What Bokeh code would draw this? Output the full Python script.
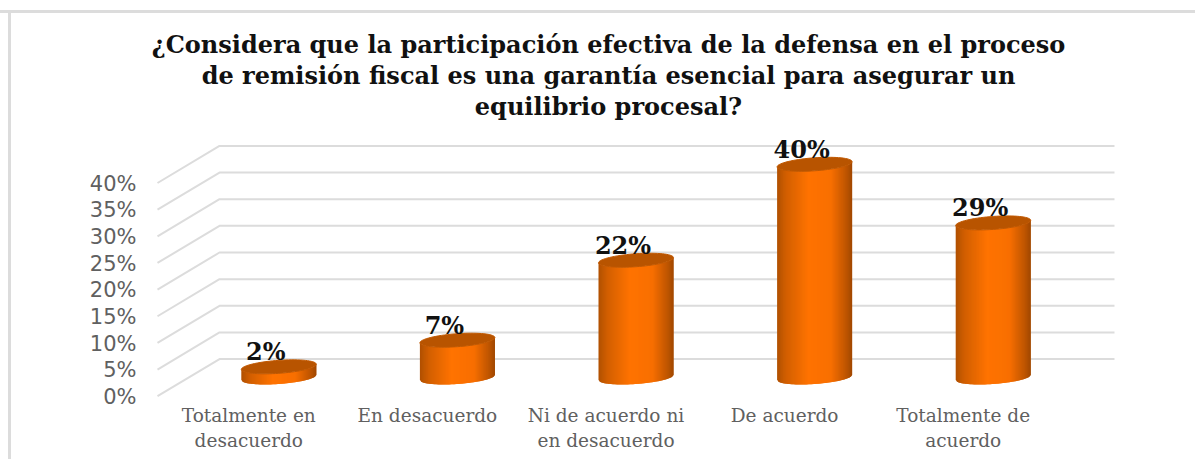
import math
from bokeh.plotting import figure
from bokeh.models import Range1d, FixedTicker, Label, LinearAxis
from bokeh.core.properties import value
from bokeh.embed import file_html
from bokeh.resources import INLINE

title_text = "¿Considera que la participación efectiva de la defensa en el proceso\nde remisión fiscal es una garantía esencial para asegurar un\nequilibrio procesal?"
categories = ["Totalmente en\ndesacuerdo", "En desacuerdo", "Ni de acuerdo ni\nen desacuerdo", "De acuerdo", "Totalmente de\nacuerdo"]
values_pct = [2, 7, 22, 40, 29]
bar_labels = ["2%", "7%", "22%", "40%", "29%"]
y_ticks = [0, 5, 10, 15, 20, 25, 30, 35, 40]
y_tick_labels = {t: f"{t}%" for t in y_ticks}

W, H = 1195, 459
L, R, T, B = 148, 0, 0, 61
FRAME_W, FRAME_H = W - L - R, H - T - B
PX_X, PX_Y = 178.6, 5.33
CX0, Y0 = 278.3, 396.5
LABEL_SHIFT = 30 / PX_X
x0 = (L - CX0) / PX_X
y0 = (Y0 - (T + FRAME_H)) / PX_Y

p = figure(width=W, height=H, output_backend="svg", toolbar_location=None,
           x_range=Range1d(x0, x0 + FRAME_W / PX_X),
           y_range=Range1d(y0, y0 + FRAME_H / PX_Y),
           x_axis_location=None,
           min_border_left=L, min_border_right=R, min_border_top=T, min_border_bottom=B,
           border_fill_color=None, background_fill_color=None)
p.styles = {
    "background-color": "white",
    "background-image": "linear-gradient(#dcdcdc,#dcdcdc), linear-gradient(#dcdcdc,#dcdcdc)",
    "background-size": "100% 3px, 3px 100%",
    "background-position": "0 10px, 8px 10px",
    "background-repeat": "no-repeat",
}
p.outline_line_color = None
p.grid.visible = False

p.yaxis.ticker = FixedTicker(ticks=y_ticks)
p.yaxis.major_label_overrides = y_tick_labels
p.yaxis.axis_line_color = None
p.yaxis.major_tick_line_color = None
p.yaxis.minor_tick_line_color = None
p.yaxis.major_label_text_font = "DejaVu Sans"
p.yaxis.major_label_text_font_size = "21px"
p.yaxis.major_label_text_color = "#606060"
p.yaxis.major_label_standoff = 6

p.extra_x_ranges = {"cat": Range1d(x0 + LABEL_SHIFT, x0 + LABEL_SHIFT + FRAME_W / PX_X)}
cat_axis = LinearAxis(x_range_name="cat", ticker=FixedTicker(ticks=list(range(len(categories)))),
                      major_label_overrides={i: c for i, c in enumerate(categories)},
                      axis_line_color=None, major_tick_line_color=None, minor_tick_line_color=None,
                      major_label_text_font="DejaVu Serif", major_label_text_font_size="18.5px",
                      major_label_text_color="#606060", major_label_standoff=0)
p.add_layout(cat_axis, "below")

# walls
BACK_DY = 7.11
FRONT_DY = 0.15
back_left = (219 - CX0) / PX_X
back_right = (1114 - CX0) / PX_X
front_left = (157 - CX0) / PX_X
gx, gy = [], []
for t in y_ticks:
    gx.append([front_left, back_left, back_right])
    gy.append([t + FRONT_DY, t + BACK_DY, t + BACK_DY])
p.multi_line(gx, gy, line_color="#dcdcdc", line_width=2)

# cylinders
HALF = 37.5
MINOR = 6.5
TILT = 2.6
BASE = 3.66
STRIPS = 75


def shade(f):
    stops = [(0.0, (176, 80, 0)), (0.12, (210, 95, 0)), (0.42, (255, 115, 0)),
             (0.72, (248, 111, 0)), (0.92, (190, 85, 0)), (1.0, (160, 72, 0))]
    for (a, ca), (b, cb) in zip(stops, stops[1:]):
        if f <= b:
            k = (f - a) / (b - a)
            return "#%02x%02x%02x" % tuple(round(u + (v - u) * k) for u, v in zip(ca, cb))
    return "#a04800"


def lower(u):
    return TILT * u / HALF - MINOR * math.sqrt(max(0, 1 - (u / HALF) ** 2))


xs, ys, cols = [], [], []
tx, ty = [], []
for i, v in enumerate(values_pct):
    top = v + BASE
    for k in range(STRIPS):
        u0 = -HALF + 2 * HALF * k / STRIPS
        u1 = min(HALF, -HALF + 2 * HALF * (k + 2) / STRIPS)
        xs.append([i + u0 / PX_X, i + u1 / PX_X, i + u1 / PX_X, i + u0 / PX_X])
        ys.append([BASE + lower(u0) / PX_Y, BASE + lower(u1) / PX_Y,
                   top + lower(u1) / PX_Y, top + lower(u0) / PX_Y])
        cols.append(shade((k + 0.5) / STRIPS))
    ex, ey = [], []
    for d in range(73):
        a = 2 * math.pi * d / 72
        u = HALF * math.cos(a)
        w = MINOR * math.sin(a)
        ex.append(i + u / PX_X)
        ey.append(top + (TILT * u / HALF + w) / PX_Y)
    tx.append(ex)
    ty.append(ey)

p.patches(xs, ys, fill_color=cols, line_color=None)
p.patches(tx, ty, fill_color="#b85400", line_color="#c05800", line_width=1)

p.text(list(range(len(values_pct))), [v + BASE for v in values_pct], text=bar_labels,
       text_font=value("DejaVu Serif"), text_font_style="bold", text_font_size="24px",
       text_color="#111111", text_align="center", text_baseline="middle",
       x_offset=-13, y_offset=-15)

p.add_layout(Label(x=460, y=369, x_units="screen", y_units="screen", text=title_text,
                   text_font="DejaVu Serif", text_font_style="bold", text_font_size="24px",
                   text_color="#111111", text_align="center", text_baseline="top", text_line_height=1.08))

open("out.html", "w").write(file_html(p, INLINE))
